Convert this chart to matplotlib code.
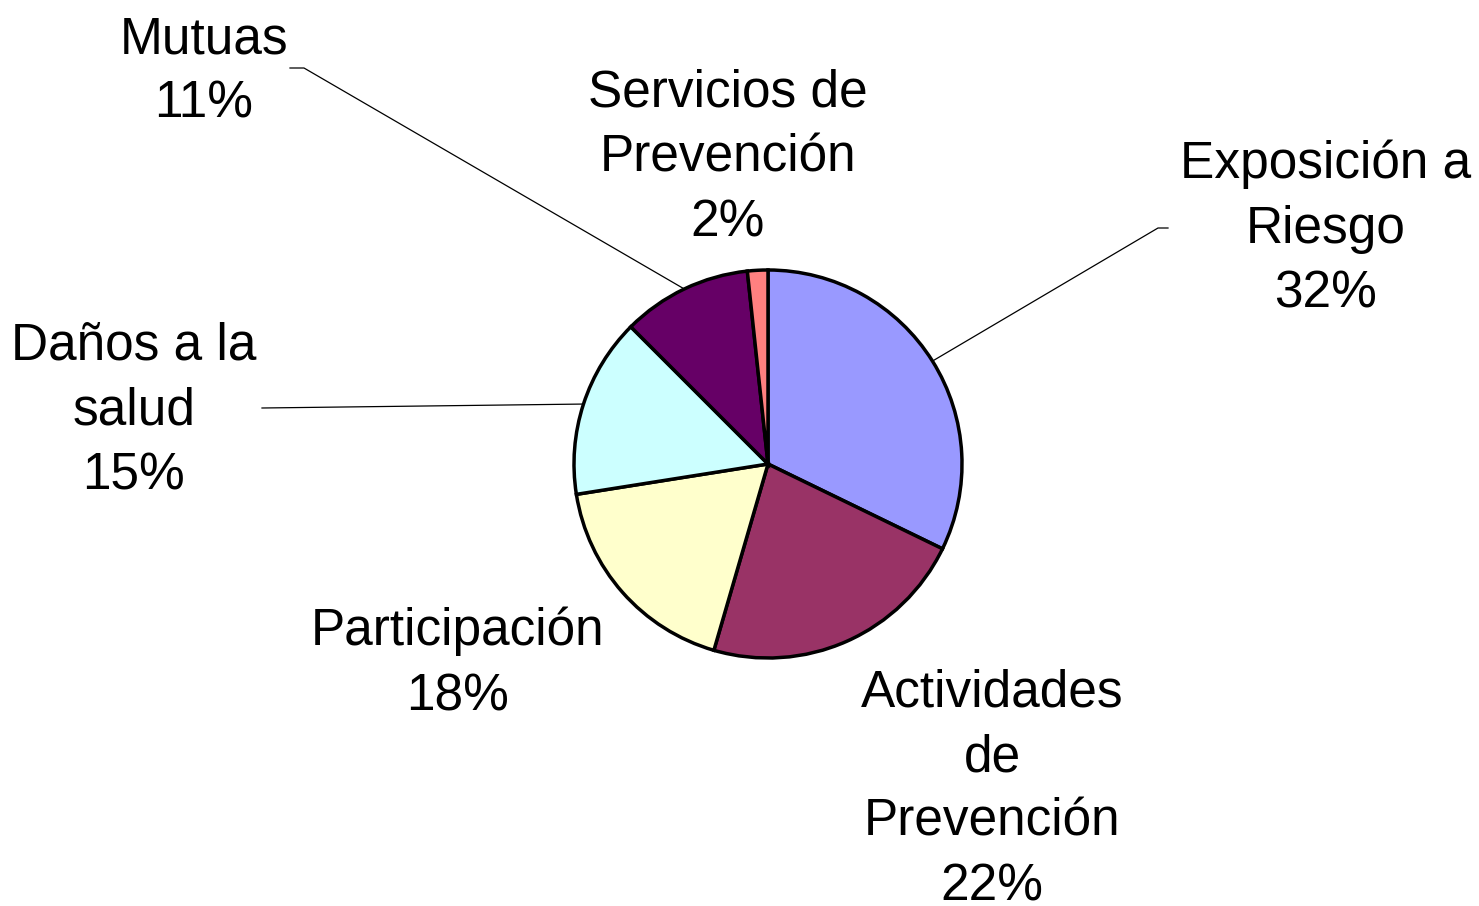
import matplotlib
matplotlib.use("Agg")
import matplotlib.pyplot as plt
import numpy as np

categories = ["Exposición a\nRiesgo", "Actividades\nde\nPrevención", "Participación",
              "Daños a la\nsalud", "Mutuas", "Servicios de\nPrevención"]
values = [32.2, 22.3, 18.0, 15.0, 10.8, 1.7]
colors = ["#9999FF", "#993366", "#FFFFCC", "#CCFFFF", "#660066", "#FF8080"]

W, H = 1479, 906
fig = plt.figure(figsize=(W / 100, H / 100), dpi=100)
ax = fig.add_axes([0, 0, 1, 1])
ax.set_xlim(0, W)
ax.set_ylim(0, H)
ax.set_aspect("equal")
ax.axis("off")

cx, cy, r = 768, H - 464, 194
wedges, _ = ax.pie(values, colors=colors, startangle=90, counterclock=False,
                   center=(cx, cy), radius=r, frame=True,
                   wedgeprops=dict(edgecolor="black", linewidth=2.5))
ax.set_xlim(0, W)
ax.set_ylim(0, H)
ax.axis("off")

# label centers (pixel coords, y from top) and leader line anchors
label_pos = [(1326, 229), (992, 790), (458, 664), (134, 411), (204, 72), (728, 158)]
leaders = {0: [(1168, 228), (1158, 228)],
           3: [(262, 408)],
           4: [(290, 68), (304, 68)]}

total = sum(values)
for i, (cat, v) in enumerate(zip(categories, values)):
    x, y = label_pos[i]
    txt = f"{cat}\n{v / total * 100:.0f}%"
    ax.text(x, H - y, txt, ha="center", va="center", fontsize=37,
            family=["Liberation Sans", "DejaVu Sans"], linespacing=1.41)
    if i in leaders:
        w = wedges[i]
        mid = np.deg2rad((w.theta1 + w.theta2) / 2)
        ex, ey = cx + r * np.cos(mid), cy + r * np.sin(mid)
        pts = [(px, H - py) for px, py in leaders[i]] + [(ex, ey)]
        xs, ys = zip(*pts)
        ax.plot(xs, ys, color="black", linewidth=0.9)

fig.savefig("out.png", dpi=100)
